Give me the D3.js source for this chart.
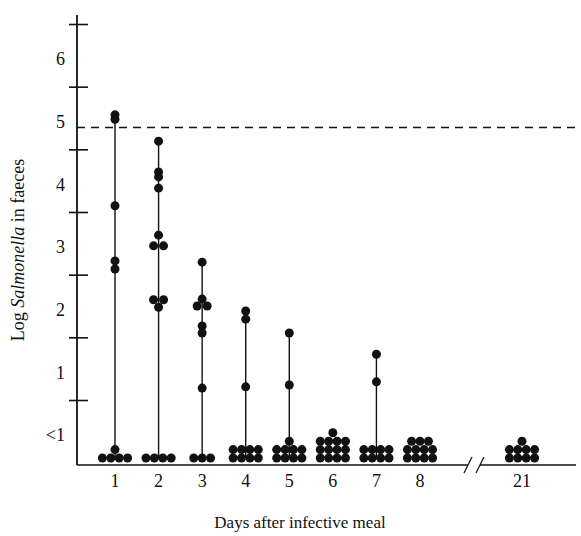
<!DOCTYPE html>
<html>
<head>
<meta charset="utf-8">
<script src="https://cdn.jsdelivr.net/npm/d3@7"></script>
<style>
    body { margin: 0; background: #fff; }
    svg text { font-family: "Liberation Serif", "Times New Roman", serif; fill: #111; }
</style>
</head>
<body>
<div id="chart"></div>
<script>
"use strict";

// days after the infective meal
var days = [1, 2, 3, 4, 5, 6, 7, 8, 21];

// log Salmonella counts that were above the detection floor, per day
var detected = [
    [5.05, 4.98, 3.60, 2.72, 2.59],
    [4.63, 4.14, 4.06, 3.88, 3.13, 2.96, 2.96, 2.10, 2.10, 1.98],
    [2.70, 2.11, 2.00, 2.00, 1.68, 1.57, 0.69],
    [1.92, 1.79, 0.71],
    [1.57, 0.74],
    [],
    [1.23, 0.79],
    [],
    []
];

// number of samples below 1 (plotted as a stack at the bottom)
var belowCounts = [5, 4, 3, 8, 9, 13, 8, 11, 9];

var yLabels = ["<1", "1", "2", "3", "4", "5", "6"];
var yLabelValues = [0, 1, 2, 3, 4, 5, 6];
var yTickValues = [0.5, 1.5, 2.5, 3.5, 4.5, 5.5, 6.5];
var dashedLevel = 4.85;

var WIDTH = 581, HEIGHT = 536;
var R = 4.5, STEP = 8.4, PER_ROW = 4;

var svg = d3.select("#chart").append("svg")
    .attr("width", WIDTH)
    .attr("height", HEIGHT);

// piecewise scale so day 21 sits after the axis break
var x = d3.scaleLinear()
    .domain([1, 8, 21])
    .range([115, 420, 522]);

var y = d3.scaleLinear()
    .domain([0.5, 6.5])
    .range([400, 24]);

var AXIS_X = 77;
var BASE_Y = 465;
var TOP_Y = 15;

// y axis line + crossing ticks
var yAxis = svg.append("g")
    .attr("class", "y-axis")
    .attr("transform", "translate(" + AXIS_X + ",0)")
    .call(d3.axisLeft(y).tickValues(yTickValues).tickFormat("").tickSizeOuter(0));
yAxis.select(".domain").remove();
yAxis.selectAll(".tick line")
    .attr("x1", -8)
    .attr("x2", 11)
    .attr("stroke", "#111")
    .attr("stroke-width", 1.6);
yAxis.append("line")
    .attr("x1", 0).attr("x2", 0)
    .attr("y1", TOP_Y).attr("y2", BASE_Y)
    .attr("stroke", "#111")
    .attr("stroke-width", 1.8);

svg.append("g")
    .attr("class", "y-labels")
    .selectAll("text")
    .data(yLabelValues)
    .enter().append("text")
    .attr("x", 65)
    .attr("y", function(d) { return y(d) + 10; })
    .attr("text-anchor", "end")
    .style("font-size", "18px")
    .text(function(d, i) { return yLabels[i]; });

// x axis with a break before day 21
var xAxis = svg.append("g").attr("class", "x-axis")
    .attr("stroke", "#111")
    .attr("stroke-width", 1.6);
xAxis.append("line")
    .attr("x1", AXIS_X).attr("x2", 468)
    .attr("y1", BASE_Y).attr("y2", BASE_Y);
xAxis.append("line")
    .attr("x1", 480).attr("x2", 576)
    .attr("y1", BASE_Y).attr("y2", BASE_Y);
[464, 476].forEach(function(bx) {
    xAxis.append("line")
        .attr("x1", bx).attr("y1", BASE_Y + 8)
        .attr("x2", bx + 8).attr("y2", BASE_Y - 8)
        .attr("stroke-width", 1.2);
});

svg.append("g")
    .attr("class", "x-labels")
    .selectAll("text")
    .data(days)
    .enter().append("text")
    .attr("x", function(d) { return x(d); })
    .attr("y", 487)
    .attr("text-anchor", "middle")
    .style("font-size", "18px")
    .text(function(d) { return d; });

// dashed reference line
svg.append("line")
    .attr("x1", AXIS_X).attr("x2", 579)
    .attr("y1", y(dashedLevel)).attr("y2", y(dashedLevel))
    .attr("stroke", "#111")
    .attr("stroke-width", 1.5)
    .attr("stroke-dasharray", "8,6");

// titles
svg.append("text")
    .attr("x", 300)
    .attr("y", 528)
    .attr("text-anchor", "middle")
    .style("font-size", "17px")
    .text("Days after infective meal");

var yTitle = svg.append("text")
    .attr("transform", "translate(24,250) rotate(-90)")
    .attr("text-anchor", "middle")
    .style("font-size", "18px");
yTitle.append("tspan").text("Log ");
yTitle.append("tspan").style("font-style", "italic").text("Salmonella");
yTitle.append("tspan").text(" in faeces");

// build dot positions
var bottomRowY = BASE_Y - R - 2.5;
var points = [];
var stems = [];

days.forEach(function(day, i) {
    var cx = x(day);
    var counts = {};
    detected[i].forEach(function(v) {
        counts[v] = (counts[v] || 0) + 1;
    });
    Object.keys(counts).forEach(function(k) {
        var n = counts[k];
        for (var j = 0; j < n; j++) {
            var off = n > 1 ? (j - (n - 1) / 2) * 10 : 0;
            points.push({ x: cx + off, y: y(+k) });
        }
    });

    var n = belowCounts[i];
    var row = 0;
    while (n > 0) {
        var inRow = Math.min(PER_ROW, n);
        for (var j = 0; j < inRow; j++) {
            points.push({
                x: cx + (j - (inRow - 1) / 2) * STEP,
                y: bottomRowY - row * STEP
            });
        }
        n -= inRow;
        row += 1;
    }

    if (detected[i].length) {
        stems.push({ x: cx, y1: y(d3.max(detected[i])), y2: bottomRowY });
    }
});

svg.append("g")
    .attr("class", "stems")
    .selectAll("line")
    .data(stems)
    .enter().append("line")
    .attr("x1", function(d) { return d.x; })
    .attr("x2", function(d) { return d.x; })
    .attr("y1", function(d) { return d.y1; })
    .attr("y2", function(d) { return d.y2; })
    .attr("stroke", "#111")
    .attr("stroke-width", 1.4);

svg.append("g")
    .attr("class", "dots")
    .selectAll("circle")
    .data(points)
    .enter().append("circle")
    .attr("cx", function(d) { return d.x; })
    .attr("cy", function(d) { return d.y; })
    .attr("r", R)
    .attr("fill", "#111");
</script>
</body>
</html>
